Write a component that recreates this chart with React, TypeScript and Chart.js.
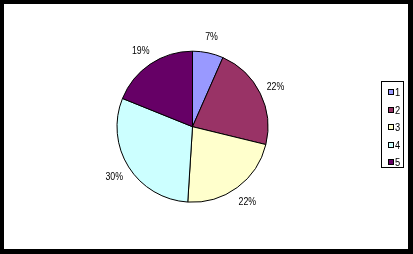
import React, { useEffect, useRef } from "react";
import { Chart, registerables } from "chart.js";

Chart.register(...registerables);

const categories = ["1", "2", "3", "4", "5"];
const values = [6.6, 22.2, 22.2, 30.1, 18.9];
const colors = ["#9999FF", "#993366", "#FFFFCC", "#CCFFFF", "#660066"];

const FONT = "11px 'Liberation Sans', Arial, sans-serif";

const framePlugin = {
  id: "frame",
  beforeDraw(chart: any) {
    const { ctx, width, height } = chart;
    ctx.save();
    ctx.fillStyle = "#000";
    ctx.fillRect(0, 0, width, height);
    ctx.fillStyle = "#fff";
    ctx.fillRect(4, 4, width - 9, height - 9);
    ctx.restore();
  },
};

const labelPlugin = {
  id: "outLabels",
  afterDatasetsDraw(chart: any) {
    const { ctx } = chart;
    const meta = chart.getDatasetMeta(0);
    const data = chart.data.datasets[0].data as number[];
    const total = data.reduce((a, b) => a + b, 0);
    ctx.save();
    ctx.font = FONT;
    ctx.fillStyle = "#000";
    ctx.textAlign = "center";
    ctx.textBaseline = "middle";
    meta.data.forEach((arc: any, i: number) => {
      const mid = (arc.startAngle + arc.endAngle) / 2;
      const r = arc.outerRadius + 17;
      const x = arc.x + Math.cos(mid) * r;
      const y = arc.y + Math.sin(mid) * r + 1;
      const txt = Math.round((data[i] / total) * 100) + "%";
      ctx.save();
      ctx.translate(x, y);
      ctx.scale(0.8, 1);
      ctx.fillText(txt, 0, 0);
      ctx.restore();
    });
    ctx.restore();
  },
};

const legendPlugin = {
  id: "boxLegend",
  afterDraw(chart: any) {
    const { ctx } = chart;
    ctx.save();
    ctx.strokeStyle = "#000";
    ctx.lineWidth = 1;
    ctx.strokeRect(381.5, 81.5, 22, 86);
    ctx.font = FONT;
    ctx.textBaseline = "middle";
    ctx.textAlign = "left";
    categories.forEach((c, i) => {
      const cy = Math.round(92 + i * 17.5);
      ctx.fillStyle = colors[i];
      ctx.fillRect(388, cy - 3, 6, 6);
      ctx.strokeStyle = "#000";
      ctx.strokeRect(388.5, cy - 2.5, 5, 5);
      ctx.fillStyle = "#000";
      ctx.save();
      ctx.translate(395, cy + 0.5);
      ctx.scale(0.85, 1);
      ctx.fillText(c, 0, 0);
      ctx.restore();
    });
    ctx.restore();
  },
};

export default function App() {
  const ref = useRef<HTMLCanvasElement>(null);
  useEffect(() => {
    document.body.style.margin = "0";
    const chart = new Chart(ref.current!, {
      type: "pie",
      data: {
        labels: categories,
        datasets: [
          {
            data: values,
            backgroundColor: colors,
            borderColor: "#000",
            borderWidth: 1,
          },
        ],
      },
      options: {
        animation: false,
        responsive: false,
        devicePixelRatio: 1,
        layout: { padding: { left: 116.5, right: 144.5, top: 50.7, bottom: 51.3 } },
        plugins: {
          legend: { display: false },
          tooltip: { enabled: false },
        },
      },
      plugins: [framePlugin, labelPlugin, legendPlugin],
    });
    return () => chart.destroy();
  }, []);
  return (
    <div style={{ width: 413, height: 254 }}>
      <canvas ref={ref} width={413} height={254} style={{ display: "block" }} />
    </div>
  );
}
